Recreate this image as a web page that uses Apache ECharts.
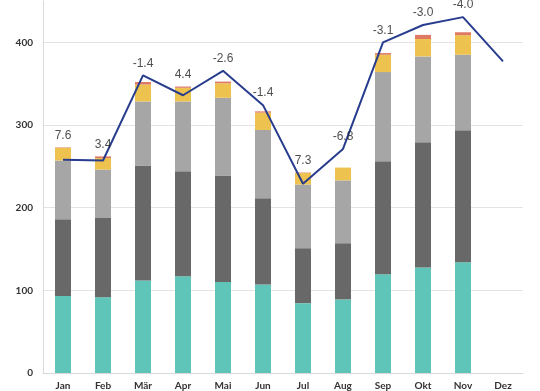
<!DOCTYPE html>
<html><head><meta charset="utf-8">
<script src="https://cdn.jsdelivr.net/npm/echarts@6/dist/echarts.min.js"></script>
<style>html,body{margin:0;padding:0;background:#fff}#c{width:540px;height:391px}</style>
</head><body><div id="c"></div>
<script>
const months = ["Jan","Feb","Mär","Apr","Mai","Jun","Jul","Aug","Sep","Okt","Nov","Dez"];
const teal   = [93, 91.5, 112, 117, 110, 107, 84.5, 89, 119.5, 127.5, 134, null];
const dark   = [93, 96, 139, 127, 129, 104.5, 66.5, 68, 136.5, 151.5, 159.5, null];
const light  = [71, 58.5, 77.5, 84.5, 94, 82.5, 77, 76, 108, 104, 91.5, null];
const yellow = [15.5, 14, 20.5, 16.5, 17.5, 21, 14, 15.5, 21, 21, 23.7, null];
const red    = [0.5, 2, 3, 1.5, 2, 1.5, 0.5, 0, 2, 5, 3.5, null];
const line   = [258, 257, 360, 336, 365.5, 324, 229, 271, 400, 421, 430.5, 377];
const deltas = ["7.6","3.4","-1.4","4.4","-2.6","-1.4","7.3","-6.8","-3.1","-3.0","-4.0", null];

const totals = months.map((m,i)=> teal[i]==null ? null : teal[i]+dark[i]+light[i]+yellow[i]+red[i]);
const anchors = months.map((m,i)=> deltas[i]==null ? null : Math.max(totals[i], line[i]));

const chart = echarts.init(document.getElementById('c'), null, {renderer:'canvas'});
function bar(name, data, color){
  return {name, type:'bar', stack:'s', data, barWidth:16, itemStyle:{color}, silent:true};
}
chart.setOption({
  animation:false,
  grid:{left:43, right:17, top:1, bottom:18},
  xAxis:{type:'category', data:months,
    axisLine:{lineStyle:{color:'#d9d9d9'}}, axisTick:{show:false},
    axisLabel:{color:'#333', fontFamily:'Lato', fontWeight:'bold', fontSize:10, margin:8}},
  yAxis:{type:'value', min:0, max:450, interval:100,
    axisLine:{show:true, lineStyle:{color:'#d9d9d9'}}, axisTick:{show:false},
    splitLine:{lineStyle:{color:'#e3e3e3'}, showMaxLine:false},
    axisLabel:{color:'#333', fontFamily:'Lato', fontWeight:'bold', fontSize:10, margin:10, showMaxLabel:false}},
  series:[
    bar('teal', teal, '#5fc5b9'),
    bar('dark', dark, '#686868'),
    bar('light', light, '#a6a6a6'),
    bar('yellow', yellow, '#edc24f'),
    bar('red', red, '#de7a64'),
    {type:'line', data:line, symbol:'none', lineStyle:{color:'#283c8e', width:2}, itemStyle:{color:'#283c8e'}, z:5},
    {type:'scatter', data:anchors, symbolSize:0, z:6,
      label:{show:true, position:'top', distance:6, color:'#222', fontFamily:'Liberation Sans', fontSize:12,
        formatter:p=>deltas[p.dataIndex]}}
  ]
});
</script></body></html>
